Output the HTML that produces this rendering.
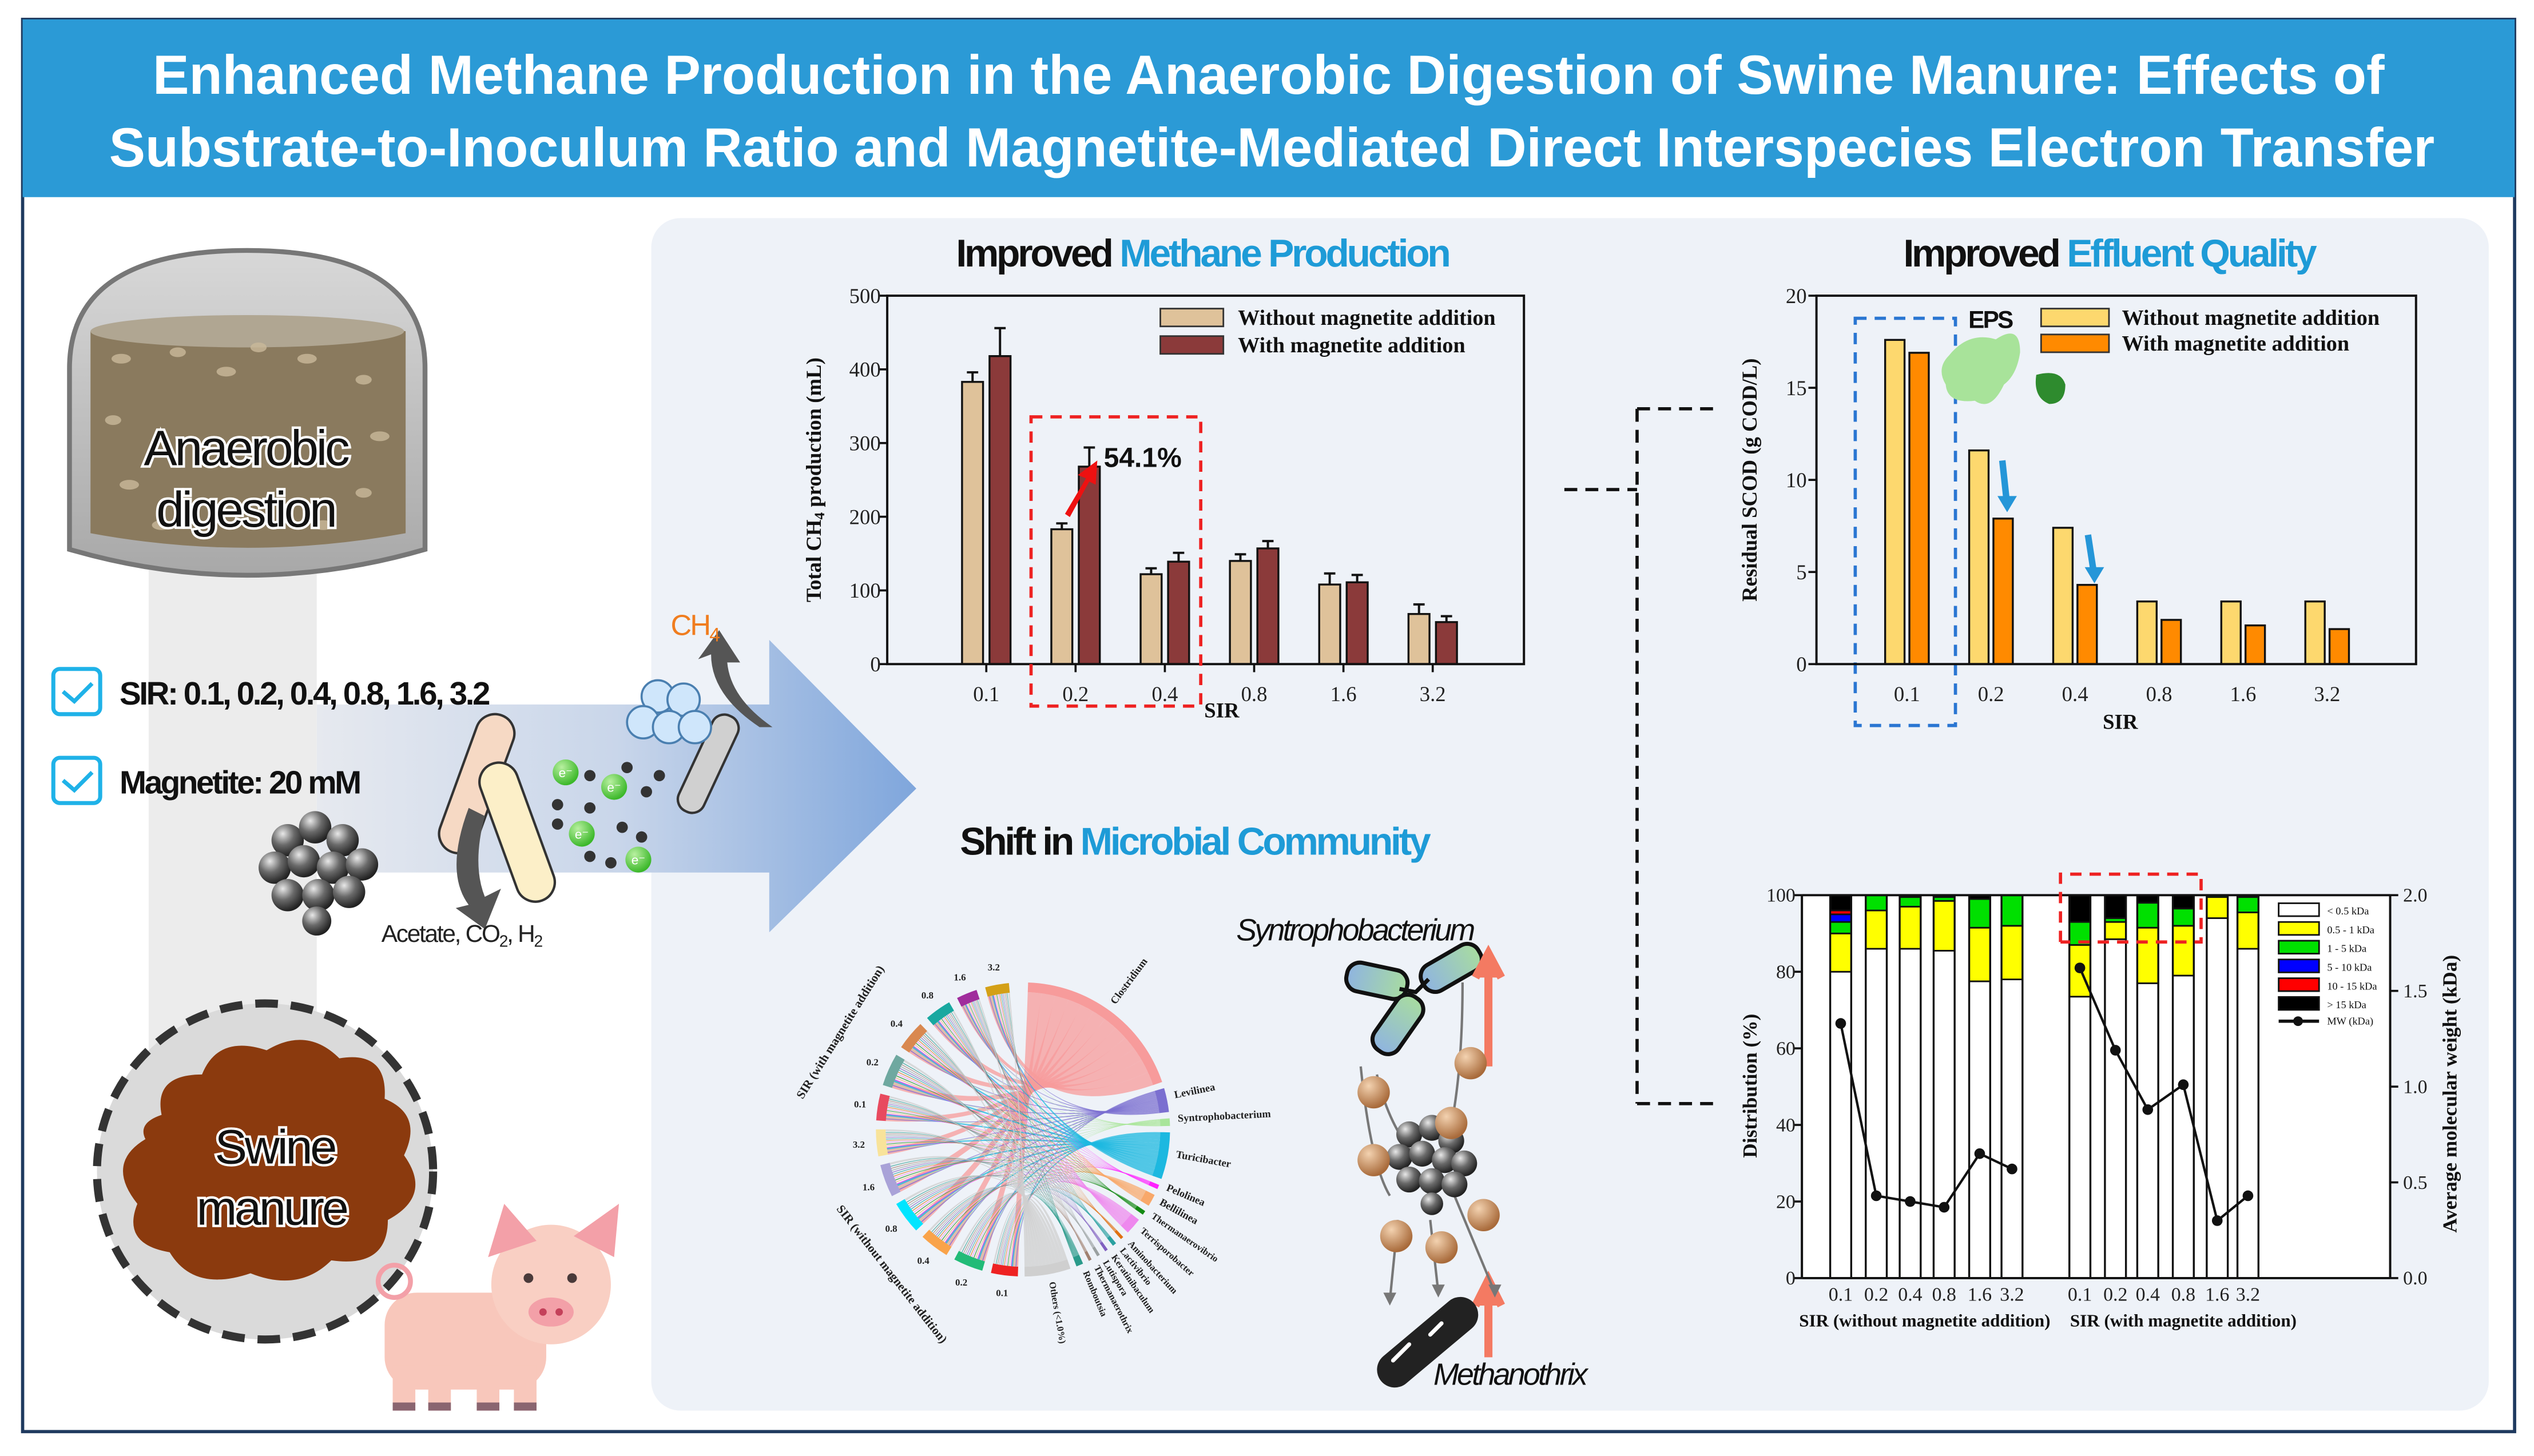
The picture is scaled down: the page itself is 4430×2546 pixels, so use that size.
<!DOCTYPE html>
<html><head><meta charset="utf-8"><style>
html,body{margin:0;padding:0;background:#fff;}
svg{display:block;}
.ser{font-family:"Liberation Serif",serif;}
.san{font-family:"Liberation Sans",sans-serif;}
</style></head><body>
<svg id="root" width="4430" height="2546" viewBox="0 0 1568 901.1" preserveAspectRatio="none" xmlns="http://www.w3.org/2000/svg">
<defs>
<linearGradient id="arrowGrad" x1="0" x2="1" y1="0" y2="0"><stop offset="0" stop-color="#e6e9ef"/><stop offset="0.5" stop-color="#c9d6ea"/><stop offset="1" stop-color="#7fa6dc"/></linearGradient>
<linearGradient id="tankGrad" x1="0" x2="0" y1="0" y2="1"><stop offset="0" stop-color="#d8d8d8"/><stop offset="1" stop-color="#a8a8a8"/></linearGradient>
<radialGradient id="ball" cx="0.35" cy="0.3" r="0.7"><stop offset="0" stop-color="#e8e8e8"/><stop offset="0.5" stop-color="#6a6a6a"/><stop offset="1" stop-color="#222"/></radialGradient>
<radialGradient id="eball" cx="0.35" cy="0.3" r="0.7"><stop offset="0" stop-color="#f3d2b0"/><stop offset="1" stop-color="#a86a3a"/></radialGradient>
<radialGradient id="gball" cx="0.35" cy="0.3" r="0.7"><stop offset="0" stop-color="#b8f0a0"/><stop offset="1" stop-color="#3cb82a"/></radialGradient>
<linearGradient id="rodG" x1="0" x2="1"><stop offset="0" stop-color="#8fb4e0"/><stop offset="1" stop-color="#a8dca0"/></linearGradient>
</defs>

<rect x="0" y="0" width="1568" height="901.1" fill="#fff"/>
<rect x="14" y="12" width="1542" height="874" fill="none" stroke="#1f3a5f" stroke-width="2"/>
<rect x="14" y="12" width="1542" height="110" fill="#2b9ad6"/>
<text x="785" y="58" text-anchor="middle" class="san" font-weight="bold" font-size="34" fill="#fff" textLength="1381" lengthAdjust="spacingAndGlyphs">Enhanced Methane Production in the Anaerobic Digestion of Swine Manure: Effects of</text>
<text x="787" y="103" text-anchor="middle" class="san" font-weight="bold" font-size="34" fill="#fff" textLength="1439" lengthAdjust="spacingAndGlyphs">Substrate-to-Inoculum Ratio and Magnetite-Mediated Direct Interspecies Electron Transfer</text>

<rect x="403" y="135" width="1137" height="738" rx="18" fill="#eef2f8"/>

<rect x="92" y="350" width="104" height="300" fill="#ececec"/>
<g>
<path d="M43,340 L43,228 Q43,155 153,155 Q263,155 263,228 L263,340 Q153,372 43,340 Z" fill="url(#tankGrad)" stroke="#777" stroke-width="3"/>
<path d="M56,205 Q153,186 251,205 L251,330 Q153,348 56,330 Z" fill="#8a7a5e"/>
<ellipse cx="153" cy="205" rx="97" ry="10" fill="#b0a692"/>
<g fill="#c9b99a" opacity="0.8">
<ellipse cx="75" cy="222" rx="6" ry="3"/><ellipse cx="110" cy="218" rx="5" ry="3"/><ellipse cx="140" cy="230" rx="6" ry="3"/><ellipse cx="190" cy="222" rx="6" ry="3"/><ellipse cx="225" cy="235" rx="5" ry="3"/><ellipse cx="70" cy="260" rx="5" ry="3"/><ellipse cx="235" cy="270" rx="6" ry="3"/><ellipse cx="80" cy="300" rx="6" ry="3"/><ellipse cx="225" cy="305" rx="5" ry="3"/><ellipse cx="100" cy="325" rx="6" ry="3"/><ellipse cx="200" cy="325" rx="6" ry="3"/><ellipse cx="160" cy="215" rx="5" ry="3"/>
</g>
<text x="152" y="288" text-anchor="middle" class="san" font-size="31" fill="#111" stroke="#fff" stroke-width="3" paint-order="stroke" letter-spacing="-1.5">Anaerobic</text>
<text x="152" y="326" text-anchor="middle" class="san" font-size="31" fill="#111" stroke="#fff" stroke-width="3" paint-order="stroke" letter-spacing="-1.5">digestion</text>
</g>

<path d="M196,436 L476,436 L476,396 L567,488 L476,577 L476,540 L196,540 Z" fill="url(#arrowGrad)"/>

<rect x="33" y="414" width="29" height="28" rx="4" fill="#fff" stroke="#1fb2e8" stroke-width="2.5"/>
<path d="M39,428 L46,434 L57,423" fill="none" stroke="#1fb2e8" stroke-width="2.5"/>
<text x="74" y="436" class="san" font-weight="bold" font-size="20" letter-spacing="-1.2" fill="#111">SIR: 0.1, 0.2, 0.4, 0.8, 1.6, 3.2</text>
<rect x="33" y="469" width="29" height="28" rx="4" fill="#fff" stroke="#1fb2e8" stroke-width="2.5"/>
<path d="M39,483 L46,489 L57,478" fill="none" stroke="#1fb2e8" stroke-width="2.5"/>
<text x="74" y="491" class="san" font-weight="bold" font-size="20" letter-spacing="-1.2" fill="#111">Magnetite: 20 mM</text>

<g>
<circle cx="178" cy="520" r="10" fill="url(#ball)"/><circle cx="195" cy="512" r="10" fill="url(#ball)"/><circle cx="212" cy="520" r="10" fill="url(#ball)"/><circle cx="170" cy="537" r="10" fill="url(#ball)"/><circle cx="188" cy="533" r="10" fill="url(#ball)"/><circle cx="206" cy="537" r="10" fill="url(#ball)"/><circle cx="224" cy="535" r="10" fill="url(#ball)"/><circle cx="178" cy="554" r="10" fill="url(#ball)"/><circle cx="197" cy="554" r="10" fill="url(#ball)"/><circle cx="216" cy="552" r="10" fill="url(#ball)"/><circle cx="196" cy="570" r="9" fill="url(#ball)"/>
</g>
<g>
<rect x="283" y="440" width="24" height="90" rx="12" transform="rotate(20 295 485)" fill="#f6d9c4" stroke="#333" stroke-width="1.5"/>
<rect x="308" y="470" width="24" height="90" rx="12" transform="rotate(-20 320 515)" fill="#fcefc8" stroke="#333" stroke-width="1.5"/>
<rect x="430" y="440" width="17" height="65" rx="8" transform="rotate(25 438 472)" fill="#d0d0d0" stroke="#333" stroke-width="1.5"/>
<path d="M290,500 Q275,540 290,560 L282,562 L300,575 L310,550 L300,555 Q292,535 300,505 Z" fill="#555"/>
<path d="M470,450 Q440,430 440,405 L432,408 L445,390 L458,410 L450,410 Q452,432 478,450 Z" fill="#555"/>
<circle cx="407" cy="431" r="10" fill="#cfe6fb" stroke="#4a7fb0" stroke-width="1.3"/><circle cx="423" cy="433" r="10" fill="#cfe6fb" stroke="#4a7fb0" stroke-width="1.3"/><circle cx="398" cy="447" r="10" fill="#cfe6fb" stroke="#4a7fb0" stroke-width="1.3"/><circle cx="414" cy="450" r="10" fill="#cfe6fb" stroke="#4a7fb0" stroke-width="1.3"/><circle cx="430" cy="450" r="10" fill="#cfe6fb" stroke="#4a7fb0" stroke-width="1.3"/>
</g>
<g>
<circle cx="350" cy="478" r="8" fill="url(#gball)"/><circle cx="380" cy="487" r="8" fill="url(#gball)"/><circle cx="360" cy="516" r="8" fill="url(#gball)"/><circle cx="395" cy="532" r="8" fill="url(#gball)"/>
<g fill="#333"><circle cx="365" cy="480" r="3.5"/><circle cx="388" cy="475" r="3.5"/><circle cx="345" cy="498" r="3.5"/><circle cx="365" cy="500" r="3.5"/><circle cx="400" cy="490" r="3.5"/><circle cx="408" cy="480" r="3.5"/><circle cx="345" cy="510" r="3.5"/><circle cx="385" cy="512" r="3.5"/><circle cx="397" cy="518" r="3.5"/><circle cx="365" cy="530" r="3.5"/><circle cx="378" cy="534" r="3.5"/></g>
<text x="350" y="481" text-anchor="middle" class="san" font-size="8" fill="#fff">e⁻</text><text x="380" y="490" text-anchor="middle" class="san" font-size="8" fill="#fff">e⁻</text><text x="360" y="519" text-anchor="middle" class="san" font-size="8" fill="#fff">e⁻</text><text x="395" y="535" text-anchor="middle" class="san" font-size="8" fill="#fff">e⁻</text>
</g>
<text x="415" y="393" class="san" font-size="18" fill="#f07d1f" letter-spacing="-1">CH<tspan font-size="12" dy="4">4</tspan></text>
<text x="236" y="583" class="san" font-size="15" fill="#222" letter-spacing="-0.8">Acetate, CO<tspan font-size="10" dy="3">2</tspan><tspan dy="-3">, H</tspan><tspan font-size="10" dy="3">2</tspan></text>

<g>
<circle cx="164" cy="725" r="104" fill="#dadada" stroke="#333" stroke-width="5" stroke-dasharray="14 8"/>
<path d="M100,690 Q95,665 125,665 Q135,640 165,650 Q190,635 210,655 Q240,650 238,680 Q262,690 250,715 Q268,740 240,755 Q240,785 205,780 Q185,800 155,788 Q120,800 105,775 Q75,770 85,745 Q65,720 90,705 Q85,695 100,690 Z" fill="#8b3a0e"/>
<text x="170" y="720" text-anchor="middle" class="san" font-size="30" fill="#111" stroke="#fff" stroke-width="3" paint-order="stroke" letter-spacing="-1.5">Swine</text>
<text x="168" y="758" text-anchor="middle" class="san" font-size="30" fill="#111" stroke="#fff" stroke-width="3" paint-order="stroke" letter-spacing="-1.5">manure</text>
</g>
<g>
<rect x="238" y="800" width="100" height="60" rx="20" fill="#f8c7bb"/>
<rect x="243" y="845" width="14" height="28" fill="#f8c7bb"/><rect x="265" y="845" width="14" height="28" fill="#f8c7bb"/><rect x="295" y="845" width="14" height="28" fill="#f8c7bb"/><rect x="318" y="845" width="14" height="28" fill="#f8c7bb"/>
<rect x="243" y="868" width="14" height="5" fill="#8a6570"/><rect x="265" y="868" width="14" height="5" fill="#8a6570"/><rect x="295" y="868" width="14" height="5" fill="#8a6570"/><rect x="318" y="868" width="14" height="5" fill="#8a6570"/>
<circle cx="341" cy="795" r="37" fill="#f9cfc3"/>
<path d="M302,778 L312,745 L332,768 Z" fill="#f3a0a8"/><path d="M380,778 L383,745 L355,765 Z" fill="#f3a0a8"/>
<ellipse cx="341" cy="812" rx="14" ry="9" fill="#f3a0a8"/><circle cx="336" cy="812" r="2.3" fill="#c4405a"/><circle cx="346" cy="812" r="2.3" fill="#c4405a"/>
<circle cx="327" cy="791" r="3" fill="#4a3a3a"/><circle cx="354" cy="791" r="3" fill="#4a3a3a"/>
<circle cx="244" cy="793" r="10" fill="none" stroke="#f3a0a8" stroke-width="3"/>
</g>

<text x="744" y="165" text-anchor="middle" class="san" font-weight="bold" font-size="24" letter-spacing="-1.5" fill="#111">Improved <tspan fill="#1e9bd7">Methane Production</tspan></text>
<text x="1305" y="165" text-anchor="middle" class="san" font-weight="bold" font-size="24" letter-spacing="-1.5" fill="#111">Improved <tspan fill="#1e9bd7">Effluent Quality</tspan></text>
<text x="739" y="529" text-anchor="middle" class="san" font-weight="bold" font-size="24" letter-spacing="-1.5" fill="#111">Shift in <tspan fill="#1e9bd7">Microbial Community</tspan></text>

<path d="M968,303 L1013,303 M1013,253 L1013,683 M1013,253 L1063,253 M1013,683 L1063,683" fill="none" stroke="#111" stroke-width="2" stroke-dasharray="8 5"/>

<g id="ch4"></g>
<g id="scod"></g>
<g id="dist"></g>
<g id="chord"></g>

<text x="765" y="582" class="san" font-style="italic" font-size="19" letter-spacing="-1.3" fill="#111">Syntrophobacterium</text>
<text x="887" y="857" class="san" font-style="italic" font-size="19" letter-spacing="-1.3" fill="#111">Methanothrix</text>
<g>
<rect x="833" y="598" width="38" height="18" rx="8" fill="url(#rodG)" stroke="#111" stroke-width="2.5" transform="rotate(12 852 607)"/>
<rect x="878" y="590" width="40" height="18" rx="8" fill="url(#rodG)" stroke="#111" stroke-width="2.5" transform="rotate(-30 898 599)"/>
<rect x="845" y="625" width="40" height="18" rx="8" fill="url(#rodG)" stroke="#111" stroke-width="2.5" transform="rotate(-55 865 634)"/>
<path d="M866,612 L876,614 L884,606" stroke="#111" stroke-width="2.5" fill="none"/>
</g>
<path d="M921,660 L921,596 M913,605 L921,590 L929,605" stroke="#f47a62" stroke-width="5" fill="#f47a62"/>
<path d="M921,840 L921,800 M913,808 L921,792 L929,808" stroke="#f47a62" stroke-width="5" fill="#f47a62"/>
<g fill="none" stroke="#777" stroke-width="1.5">
<path d="M842,660 Q848,720 860,740"/><path d="M852,665 Q860,700 880,720"/><path d="M905,608 Q905,680 892,720"/>
<path d="M865,755 L860,805"/><path d="M885,755 L890,800"/><path d="M900,740 L925,800"/>
</g>
<g>
<circle cx="872" cy="702" r="8" fill="url(#ball)"/><circle cx="886" cy="698" r="8" fill="url(#ball)"/><circle cx="898" cy="706" r="8" fill="url(#ball)"/><circle cx="866" cy="716" r="8" fill="url(#ball)"/><circle cx="880" cy="714" r="8" fill="url(#ball)"/><circle cx="894" cy="718" r="8" fill="url(#ball)"/><circle cx="906" cy="720" r="8" fill="url(#ball)"/><circle cx="872" cy="730" r="8" fill="url(#ball)"/><circle cx="886" cy="731" r="8" fill="url(#ball)"/><circle cx="900" cy="733" r="8" fill="url(#ball)"/><circle cx="886" cy="745" r="7" fill="url(#ball)"/>
</g>
<g>
<circle cx="910" cy="658" r="10" fill="url(#eball)"/><circle cx="850" cy="676" r="10" fill="url(#eball)"/><circle cx="898" cy="695" r="10" fill="url(#eball)"/><circle cx="850" cy="718" r="10" fill="url(#eball)"/><circle cx="918" cy="752" r="10" fill="url(#eball)"/><circle cx="864" cy="765" r="10" fill="url(#eball)"/><circle cx="892" cy="772" r="10" fill="url(#eball)"/>
</g>
<g>
<rect x="846" y="820" width="75" height="22" rx="11" fill="#222" transform="rotate(-40 883 831)"/>
<path d="M862,842 L872,832 M885,826 L892,819" stroke="#fff" stroke-width="2.5" stroke-linecap="round"/>
</g>
<g fill="#777"><path d="M856,800 L864,800 L860,808 Z"/><path d="M886,795 L894,795 L890,803 Z"/><path d="M921,795 L929,795 L925,803 Z"/></g>
</svg>

<script>
const NS='http://www.w3.org/2000/svg';
function el(tag,parent,attrs,txt){const e=document.createElementNS(NS,tag);for(const k in attrs)e.setAttribute(k,attrs[k]);if(txt!==undefined)e.textContent=txt;parent.appendChild(e);return e;}

/* ===== Methane chart data ===== */
const ch4Cats=['0.1','0.2','0.4','0.8','1.6','3.2'];
const ch4Without=[383,183,122,140,108,68];
const ch4With=[418,268,139,157,111,57];
const ch4ErrWithout=[13,8,8,9,15,13];
const ch4ErrWith=[38,26,12,10,10,8];
const ch4Ticks=[0,100,200,300,400,500];

/* ===== SCOD chart data ===== */
const scodCats=['0.1','0.2','0.4','0.8','1.6','3.2'];
const scodWithout=[17.6,11.6,7.4,3.4,3.4,3.4];
const scodWith=[16.9,7.9,4.3,2.4,2.1,1.9];
const scodTicks=[0,5,10,15,20];

/* ===== Distribution chart data ===== */
const distCats=['0.1','0.2','0.4','0.8','1.6','3.2','0.1','0.2','0.4','0.8','1.6','3.2'];
const distLt05=[80,86,86,85.5,77.5,78,73.5,88.5,77,79,94,86];
const dist05to1=[10,10,11,13,14,14,13.5,4.5,14.5,13,5.5,9.5];
const dist1to5=[3,4,2.5,1,7.5,8,6,1,6.5,4.5,0.5,4];
const dist5to10=[2,0,0,0,0,0,0,0,0,0,0,0];
const dist10to15=[1,0,0,0,0,0,0,0,0,0,0,0];
const distGt15=[4,0,0.5,0.5,1,0,7,6,2,3.5,0,0.5];
const mwValues=[1.33,0.43,0.40,0.37,0.65,0.57,1.62,1.19,0.88,1.01,0.30,0.43];
const distTicksLeft=[0,20,40,60,80,100];
const distTicksRight=['0.0','0.5','1.0','1.5','2.0'];
const distLegend=['< 0.5 kDa','0.5 - 1 kDa','1 - 5 kDa','5 - 10 kDa','10 - 15 kDa','> 15 kDa'];

/* ===== Chord diagram data ===== */
const genusNames=['Clostridium','Levilinea','Syntrophobacterium','Turicibacter','Pelolinea','Bellilinea','Thermanaerovibrio','Terrisporobacter','Aminobacterium','Lactivibrio','Keratinibaculum','Lutispora','Thermanaerothrix','Romboutsia','Others (<1.0%)'];
const genusPct=[24.7,3.39,1.06,6.62,0.63,1.72,0.6,2.35,0.38,0.56,0.12,0.3,0.25,0.99,6.5];
const sirLabels=['0.1','0.2','0.4','0.8','1.6','3.2','0.1','0.2','0.4','0.8','1.6','3.2'];
const sirShare=[9,10,10,11,11,9,9,11,10,9,7,8];

(function(){
 const g=document.getElementById('ch4');
 const L=549,R=943,T=183,B=411;
 const y=v=>B-v/500*(B-T);
 const xc=i=>610.3+i*55.25;
 ch4Cats.forEach((c,i)=>{
  [[ch4Without,ch4ErrWithout,-8.5,'#dfc29a','ch4-bar-without-'],[ch4With,ch4ErrWith,8.5,'#8b3a3a','ch4-bar-with-']].forEach(s=>{
   const v=s[0][i],e=s[1][i],cx=xc(i)+s[2];
   const r=el('rect',g,{x:cx-6.5,y:y(v),width:13,height:B-y(v),fill:s[3],stroke:'#111','stroke-width':1.2});
   
   
   const eb=el('path',g,{d:`M${cx},${y(v)} L${cx},${y(v+e)} M${cx-3.5},${y(v+e)} L${cx+3.5},${y(v+e)}`,stroke:'#111','stroke-width':1.4,fill:'none'});
   
   
  });
  el('line',g,{x1:xc(i),x2:xc(i),y1:B,y2:B+5,stroke:'#111','stroke-width':1.3});
  const t=el('text',g,{x:xc(i),y:434,'text-anchor':'middle','class':'ser','font-size':13,fill:'#222'},c);
  
  
 });
 const fr=el('rect',g,{x:L,y:T,width:R-L,height:B-T,fill:'none',stroke:'#111','stroke-width':1.4});
 
 
 ch4Ticks.forEach(v=>{
  el('line',g,{x1:L-5,x2:L,y1:y(v),y2:y(v),stroke:'#111','stroke-width':1.3});
  const t=el('text',g,{x:L-4,y:y(v)+4.5,'text-anchor':'end','class':'ser','font-size':13,fill:'#222'},String(v));
  
  
 });
 const yt=el('text',g,{transform:'translate(508,297) rotate(-90)','text-anchor':'middle','class':'ser','font-weight':'bold','font-size':13,fill:'#111'});
 
 
 el('tspan',yt,{},'Total CH');
 el('tspan',yt,{'font-size':9,dy:2},'4');
 el('tspan',yt,{dy:-2},' production (mL)');
 const xt=el('text',g,{x:756,y:444,'text-anchor':'middle','class':'ser','font-weight':'bold','font-size':13,fill:'#111'},'SIR');
 
 
 [['#dfc29a','Without magnetite addition',191],['#8b3a3a','With magnetite addition',208]].forEach(l=>{
  const b=el('rect',g,{x:718,y:l[2],width:39,height:11,fill:l[0],stroke:'#333','stroke-width':1});
  
  
  const t=el('text',g,{x:766,y:l[2]+10,'class':'ser','font-weight':'bold','font-size':13.5,fill:'#111'},l[1]);
  
  
 });
 const box=el('rect',g,{x:638,y:258,width:105,height:179,fill:'none',stroke:'#ee2222','stroke-width':2,'stroke-dasharray':'7 5'});
 
 
 const ar=el('path',g,{d:'M659,318 L672,296 L667,294 L679,285 L678,300 L674,298 L662,320 Z',fill:'#ee1111'});
 
 
 const p=el('text',g,{x:683,y:289,'class':'san','font-weight':'bold','font-size':17,fill:'#111'},'54.1%');
 
 
})();

(function(){
 const g=document.getElementById('scod');
 const L=1124,R=1495,T=183,B=411;
 const y=v=>B-v/20*(B-T);
 const xc=i=>1180+i*52;
 const box=el('rect',g,{x:1148,y:197,width:62,height:252,fill:'none',stroke:'#2a76d2','stroke-width':2,'stroke-dasharray':'7 5'});
 
 
 scodCats.forEach((c,i)=>{
  [[scodWithout,-7.5,'#fdd86e','scod-bar-without-'],[scodWith,7.5,'#ff8a00','scod-bar-with-']].forEach(s=>{
   const v=s[0][i],cx=xc(i)+s[1];
   const r=el('rect',g,{x:cx-6,y:y(v),width:12,height:B-y(v),fill:s[2],stroke:'#111','stroke-width':1.2});
   
   
  });
  const t=el('text',g,{x:xc(i),y:434,'text-anchor':'middle','class':'ser','font-size':13,fill:'#222'},c);
  
  
 });
 const fr=el('rect',g,{x:L,y:T,width:R-L,height:B-T,fill:'none',stroke:'#111','stroke-width':1.4});
 
 
 scodTicks.forEach(v=>{
  el('line',g,{x1:L-5,x2:L,y1:y(v),y2:y(v),stroke:'#111','stroke-width':1.3});
  const t=el('text',g,{x:L-6,y:y(v)+4.5,'text-anchor':'end','class':'ser','font-size':13,fill:'#222'},String(v));
  
  
 });
 const yt=el('text',g,{transform:'translate(1087,297) rotate(-90)','text-anchor':'middle','class':'ser','font-weight':'bold','font-size':13,fill:'#111'},'Residual SCOD (g COD/L)');
 
 
 const xt=el('text',g,{x:1312,y:451,'text-anchor':'middle','class':'ser','font-weight':'bold','font-size':13,fill:'#111'},'SIR');
 
 
 [['#fdd86e','Without magnetite addition',191],['#ff8a00','With magnetite addition',207]].forEach(l=>{
  const b=el('rect',g,{x:1263,y:l[2],width:42,height:11,fill:l[0],stroke:'#333','stroke-width':1});
  
  
  const t=el('text',g,{x:1313,y:l[2]+10,'class':'ser','font-weight':'bold','font-size':13.5,fill:'#111'},l[1]);
  
  
 });
 const eps=el('text',g,{x:1218,y:203,'class':'san','font-weight':'bold','font-size':15,'letter-spacing':'-1',fill:'#111'},'EPS');
 
 
 const blob=el('path',g,{d:'M1206,220 Q1218,205 1235,210 Q1250,200 1250,218 Q1248,232 1240,238 Q1232,255 1222,248 Q1205,250 1204,238 Q1198,228 1206,220 Z',fill:'#a8e39a'});
 
 
 el('path',g,{d:'M1260,232 Q1275,228 1278,238 Q1278,250 1268,250 Q1258,246 1260,232 Z',fill:'#2e8b2e'});
 [[1239,285,1242,313],[1292,331,1296,357]].forEach(a=>{
  const ar=el('path',g,{d:`M${a[0]},${a[1]} L${a[2]},${a[3]}`,stroke:'#2596d8','stroke-width':4,fill:'none'});
  
  
  el('path',g,{d:`M${a[2]-6},${a[3]-6} L${a[2]+6},${a[3]-6} L${a[2]},${a[3]+4} Z`,fill:'#2596d8'});
 });
})();

(function(){
 const g=document.getElementById('dist');
 const L=1115,R=1479,T=554,B=791;
 const y=v=>B-v/100*(B-T);
 const yr=v=>B-v/2*(B-T);
 const xs=[1139,1161,1182,1203,1225,1245,1287,1309,1329,1351,1372,1391];
 const stacks=[distLt05,dist05to1,dist1to5,dist5to10,dist10to15,distGt15];
 const cols=['#ffffff','#ffff00','#00e000','#0000ff','#ff0000','#000000'];
 el('rect',g,{x:L,y:T,width:R-L,height:B-T,fill:'#fff'});
 distCats.forEach((c,i)=>{
  let acc=0;
  stacks.forEach((s,k)=>{
   const v=s[i];
   if(v>0){
    const r=el('rect',g,{x:xs[i]-6.5,y:y(acc+v),width:13,height:y(acc)-y(acc+v),fill:cols[k],stroke:'#111','stroke-width':1});
    
    
   }
   acc+=v;
  });
  el('rect',g,{x:xs[i]-6.5,y:T,width:13,height:B-T,fill:'none',stroke:'#111','stroke-width':1.2});
  const t=el('text',g,{x:xs[i],y:805,'text-anchor':'middle','class':'ser','font-size':12,fill:'#222'},c);
  
  
 });
 [[0,6],[6,12]].forEach(r=>{
  const pts=xs.slice(r[0],r[1]).map((x,j)=>x+','+yr(mwValues[r[0]+j])).join(' ');
  const pl=el('polyline',g,{points:pts,fill:'none',stroke:'#111','stroke-width':1.5});
  
  
  for(let j=r[0];j<r[1];j++){
   const d=el('circle',g,{cx:xs[j],cy:yr(mwValues[j]),r:3.3,fill:'#111'});
   
   
  }
 });
 const fr=el('path',g,{d:`M${L},${T} L${R},${T} M${L},${B} L${R},${B} M${L},${T} L${L},${B} M${R},${T} L${R},${B}`,stroke:'#111','stroke-width':1.4,fill:'none'});
 
 
 distTicksLeft.forEach(v=>{
  el('line',g,{x1:L-5,x2:L,y1:y(v),y2:y(v),stroke:'#111','stroke-width':1.3});
  const t=el('text',g,{x:L-4,y:y(v)+4,'text-anchor':'end','class':'ser','font-size':12,fill:'#222'},String(v));
  
  
 });
 distTicksRight.forEach(v=>{
  el('line',g,{x1:R,x2:R+5,y1:yr(+v),y2:yr(+v),stroke:'#111','stroke-width':1.3});
  const t=el('text',g,{x:R+8,y:yr(+v)+4,'class':'ser','font-size':12,fill:'#222'},v);
  
  
 });
 const yt=el('text',g,{transform:'translate(1087,672) rotate(-90)','text-anchor':'middle','class':'ser','font-weight':'bold','font-size':12.5,fill:'#111'},'Distribution (%)');
 
 
 const yt2=el('text',g,{transform:'translate(1520,677) rotate(-90)','text-anchor':'middle','class':'ser','font-weight':'bold','font-size':12.5,fill:'#111'},'Average molecular weight (kDa)');
 
 
 [['SIR (without magnetite addition)',1191],['SIR (with magnetite addition)',1351]].forEach(l=>{
  const t=el('text',g,{x:l[1],y:821,'text-anchor':'middle','class':'ser','font-weight':'bold','font-size':11,fill:'#111'},l[0]);
  
  
 });
 distLegend.forEach((n,k)=>{
  const yy=559+k*11.6;
  const b=el('rect',g,{x:1410,y:yy,width:25,height:8,fill:cols[k],stroke:'#111','stroke-width':1});
  
  
  const t=el('text',g,{x:1440,y:yy+7,'class':'ser','font-size':6.5,fill:'#111'},n);
  
  
 });
 el('line',g,{x1:1410,x2:1435,y1:632,y2:632,stroke:'#111','stroke-width':2});
 el('circle',g,{cx:1422,cy:632,r:3,fill:'#111'});
 const mt=el('text',g,{x:1440,y:634,'class':'ser','font-size':6.5,fill:'#111'},'MW (kDa)');
 
 
 const box=el('path',g,{d:'M1275,583 L1275,541 L1362,541 L1362,583 L1275,583',fill:'none',stroke:'#ee2222','stroke-width':2,'stroke-dasharray':'7 5'});
 
 
})();

(function(){
 const g=document.getElementById('chord');
 const cx=633,cy=699,r=88;
 const genusCols=['#f79b9b','#7b6fd0','#a9e59a','#1cb8e0','#ff22ff','#f8a86a','#138a13','#ee88ee','#e07010','#2aa0a0','#8060c0','#9aa0a0','#a08070','#2a9a8a','#cfcfcf'];
 const sirCols=['#ee2222','#22bb77','#f9a34a','#00e5ff','#a9a2d8','#f8e39a','#e84a5f','#6fa8a0','#d98850','#18a8a0','#a02c9c','#d4a017'];
 const pol=(a,rr)=>[cx+rr*Math.sin(a*Math.PI/180),cy-rr*Math.cos(a*Math.PI/180)];
 const totG=genusPct.reduce((a,b)=>a+b,0);
 const gapG=2.5, spanG=178-genusPct.length*gapG;
 let a=2; const gArc=[];
 genusPct.forEach(p=>{const w=Math.max(1.2,p/totG*spanG);gArc.push([a,a+w]);a+=w+gapG;});
 const totS=sirShare.reduce((a,b)=>a+b,0);
 let b=182; const sArc=[];
 sirShare.forEach(p=>{const w=p/totS*(176-12*3.5);sArc.push([b,b+w]);b+=w+3.5;});
 sArc.forEach((sa,si)=>{
  const sw=(sa[1]-sa[0])/genusPct.length;
  genusPct.forEach((p,gi)=>{
   const ga=gArc[gi];const gw=(ga[1]-ga[0])/sirShare.length;
   const s0=sa[0]+gi*sw,s1=s0+sw*Math.max(0.4,p/6);
   const g0=ga[0]+si*gw,g1=g0+gw;
   const A=pol(s0,r-3),Bp=pol(Math.min(s1,sa[1]),r-3),C=pol(g0,r-3),D=pol(g1,r-3);
   const path=el('path',g,{d:`M${A} Q${cx},${cy} ${D} A${r-3},${r-3} 0 0 0 ${C} Q${cx},${cy} ${Bp} Z`,fill:genusCols[gi],opacity:0.75});
   
   
  });
 });
 const arcPath=(a0,a1,r0,r1)=>{const p0=pol(a0,r1),p1=pol(a1,r1),p2=pol(a1,r0),p3=pol(a0,r0);const lg=(a1-a0)>180?1:0;return `M${p0} A${r1},${r1} 0 ${lg} 1 ${p1} L${p2} A${r0},${r0} 0 ${lg} 0 ${p3} Z`;};
 gArc.forEach((ga,i)=>{
  const s=el('path',g,{d:arcPath(ga[0],ga[1],r-3,r+3),fill:genusCols[i]});
  
  
  const m=(ga[0]+ga[1])/2; const pt=pol(m,r+8);
  const rot=m-90;
  const t=el('text',g,{x:pt[0],y:pt[1],transform:`rotate(${m<20?0:rot} ${pt[0]} ${pt[1]})`,'class':'ser','font-weight':'bold','font-size':i<6?6.5:5.8,fill:'#222'},genusNames[i]);
  
  
 });
 sArc.forEach((sa,i)=>{
  const s=el('path',g,{d:arcPath(sa[0],sa[1],r-3,r+3),fill:sirCols[i]});
  
  
  const m=(sa[0]+sa[1])/2; const pt=pol(m,r+14);
  const t=el('text',g,{x:pt[0],y:pt[1]+2,'text-anchor':'middle','class':'ser','font-weight':'bold','font-size':6,fill:'#222'},sirLabels[i]);
  
  
 });
 const t1=el('text',g,{transform:'translate(522,640) rotate(-58)','text-anchor':'middle','class':'ser','font-weight':'bold','font-size':7.5,fill:'#222'},'SIR (with magnetite addition)');
 
 
 const t2=el('text',g,{transform:'translate(550,790) rotate(52)','text-anchor':'middle','class':'ser','font-weight':'bold','font-size':7.5,fill:'#222'},'SIR (without magnetite addition)');
 
 
})();
</script>
</body></html>
